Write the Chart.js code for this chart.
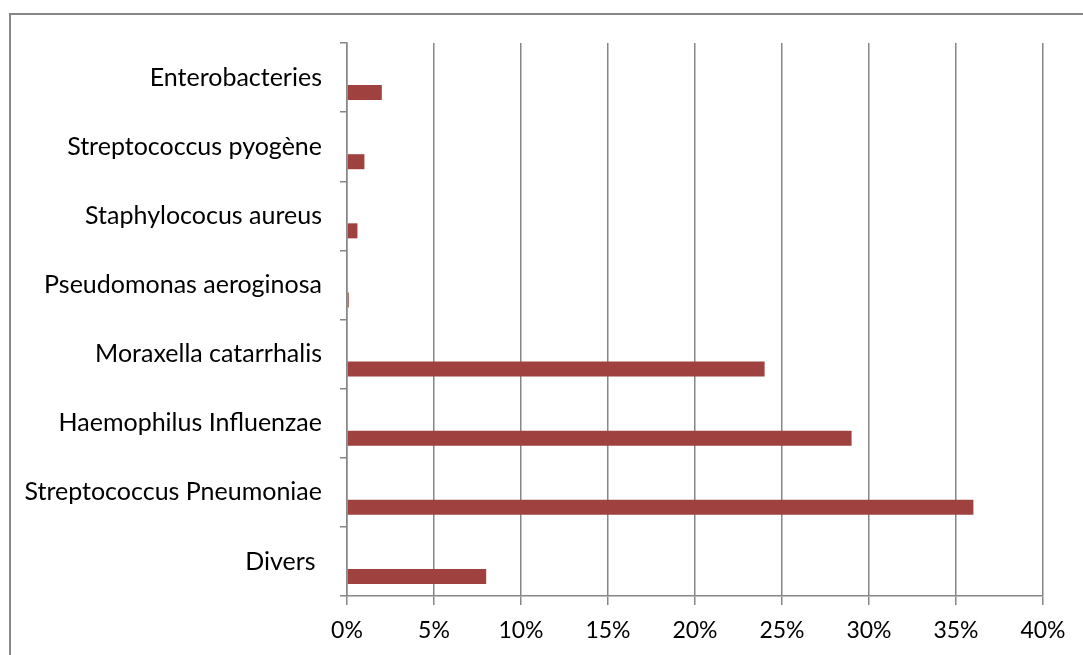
<!DOCTYPE html>
<html>
<head>
<meta charset="utf-8">
<script src="https://cdn.jsdelivr.net/npm/chart.js@4/dist/chart.umd.min.js"></script>
<style>
  html, body { margin: 0; padding: 0; background: #fff; }
  #wrap { width: 1083px; height: 655px; position: relative; }
</style>
</head>
<body>
<div id="wrap"><canvas id="c" width="1083" height="655"></canvas></div>
<script>
const categories = ['Enterobacteries', 'Streptococcus pyogène', 'Staphylococus aureus', 'Pseudomonas aeroginosa', 'Moraxella catarrhalis', 'Haemophilus Influenzae', 'Streptococcus Pneumoniae', 'Divers '];
const emptySeriesA = [null, null, null, null, null, null, null, null];
const emptySeriesB = [null, null, null, null, null, null, null, null];
const percentValues = [2, 1, 0.6, 0.1, 24, 29, 36, 8];
const xTickValues = [0, 5, 10, 15, 20, 25, 30, 35, 40];

const GREY = '#868686';
const FONT = 'Lato, "Open Sans", sans-serif';

const frame = {
  id: 'frame',
  beforeDraw(chart) {
    const ctx = chart.ctx;
    ctx.save();
    ctx.strokeStyle = GREY;
    ctx.lineWidth = 2;
    ctx.beginPath();
    ctx.moveTo(10, 655);
    ctx.lineTo(10, 14);
    ctx.lineTo(1083, 14);
    ctx.stroke();
    ctx.restore();
  }
};

new Chart(document.getElementById('c'), {
  type: 'bar',
  data: {
    labels: categories,
    datasets: [
      { data: emptySeriesA, backgroundColor: '#4F81BD' },
      { data: emptySeriesB, backgroundColor: '#9BBB59' },
      { data: percentValues, backgroundColor: '#9F413E', borderWidth: 0 }
    ]
  },
  options: {
    indexAxis: 'y',
    responsive: false,
    animation: false,
    events: [],
    layout: { padding: { left: 10, top: 43, right: 40, bottom: 0 } },
    categoryPercentage: 0.652,
    barPercentage: 1.0,
    plugins: { legend: { display: false }, tooltip: { enabled: false } },
    scales: {
      y: {
        type: 'category',
        offset: true,
        border: { display: true, color: GREY, width: 1.5 },
        grid: { display: true, drawOnChartArea: false, drawTicks: true, tickLength: 7, color: GREY, lineWidth: 1.5, offset: true },
        ticks: { color: '#000', padding: 18, font: { family: FONT, size: 25 } },
        afterFit(scale) { scale.width = 337; }
      },
      x: {
        type: 'linear',
        min: 0,
        max: 40,
        border: { display: true, color: GREY, width: 1.5 },
        grid: { color: GREY, lineWidth: 1.5, drawTicks: true, tickLength: 9 },
        afterBuildTicks(scale) { scale.ticks = xTickValues.map(v => ({ value: v })); },
        ticks: {
          color: '#000',
          padding: 12,
          maxRotation: 0,
          font: { family: FONT, size: 23 },
          callback: v => v + '%'
        },
        afterFit(scale) { scale.height = 59; }
      }
    }
  },
  plugins: [frame]
});
</script>
</body>
</html>
